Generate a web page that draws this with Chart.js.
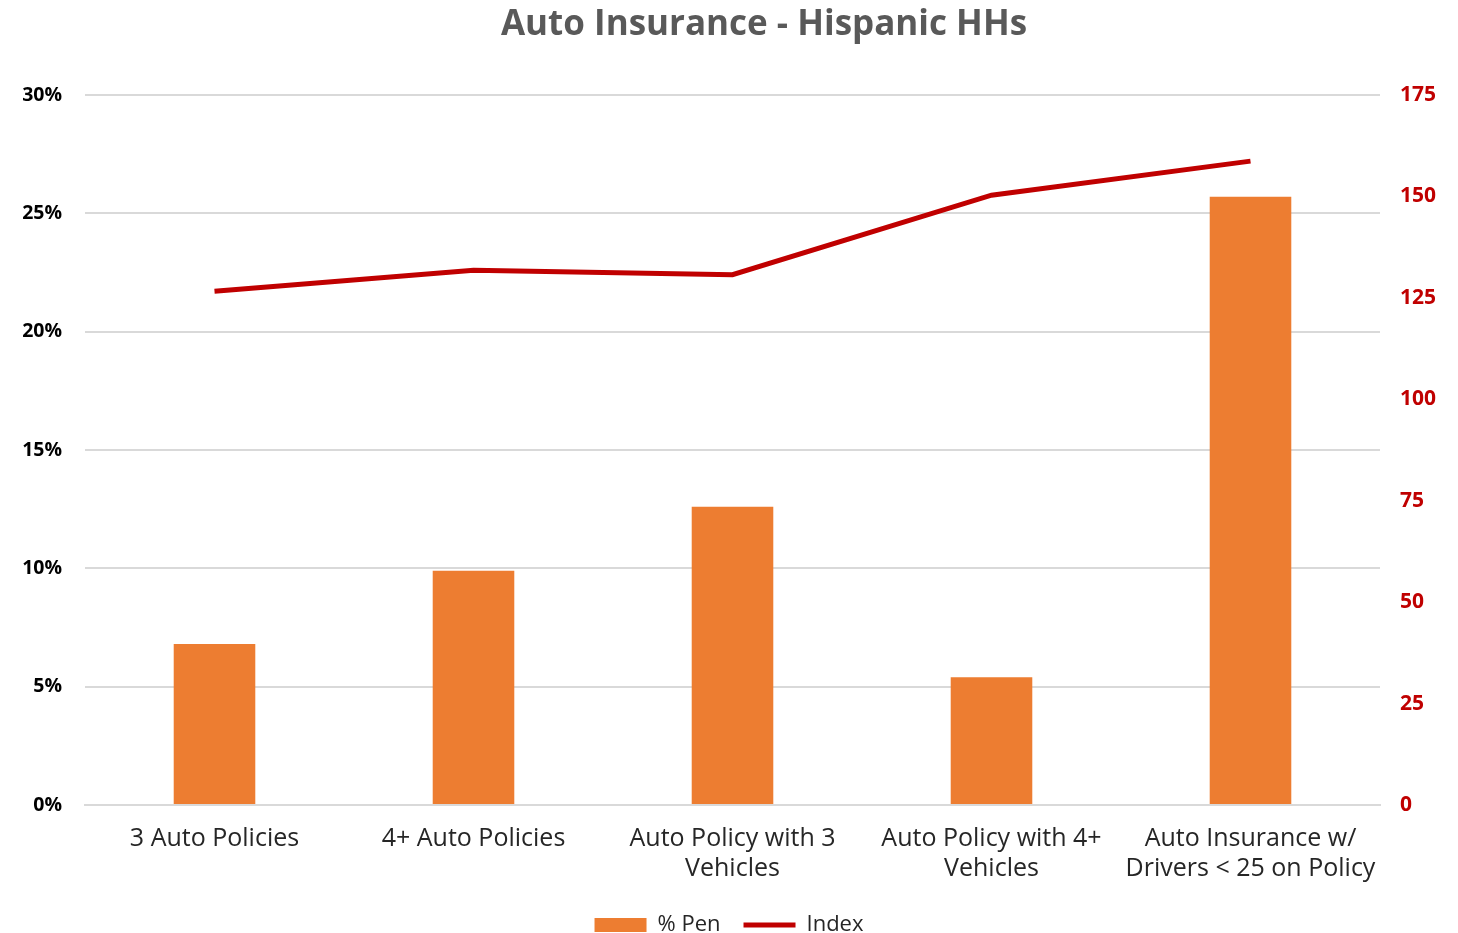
<!DOCTYPE html>
<html>
<head>
<meta charset="utf-8">
<script src="https://cdn.jsdelivr.net/npm/chart.js@4.4.1/dist/chart.umd.min.js"></script>
<style>
  html, body { margin: 0; padding: 0; background: #fff; }
  #wrap { width: 1458px; height: 933px; position: relative; }
</style>
</head>
<body>
<div id="wrap"><canvas id="myChart"></canvas></div>
<script>
const chartTitle = 'Auto Insurance - Hispanic HHs';
const categories = [
  '3 Auto Policies',
  '4+ Auto Policies',
  ['Auto Policy with 3', 'Vehicles'],
  ['Auto Policy with 4+', 'Vehicles'],
  ['Auto Insurance w/', 'Drivers < 25 on Policy']
];
const penValues = [6.8, 9.9, 12.6, 5.4, 25.7];
const indexValues = [126.6, 131.8, 130.7, 150.3, 158.7];
const leftTicks = [0, 5, 10, 15, 20, 25, 30];
const rightTicks = [0, 25, 50, 75, 100, 125, 150, 175];

// title is drawn by hand so it can sit a bit right of centre, like the original
const titlePlugin = {
  id: 'titlePlugin',
  afterDraw(chart) {
    const c = chart.ctx;
    c.save();
    c.font = 'bold 35px "Open Sans"';
    c.fillStyle = '#595959';
    c.textAlign = 'center';
    c.textBaseline = 'alphabetic';
    c.fillText(chartTitle, 764, 35);
    c.restore();
  }
};

document.addEventListener('DOMContentLoaded', function() {
  const ctx = document.getElementById('myChart');

  new Chart(ctx, {
    data: {
      labels: categories,
      datasets: [{
        type: 'line',
        label: 'Index',
        data: indexValues,
        yAxisID: 'y1',
        borderColor: '#C00000',
        backgroundColor: '#C00000',
        borderWidth: 5,
        pointRadius: 0,
        pointStyle: 'line',
        tension: 0,
        order: 0
      },
      {
        type: 'bar',
        label: '% Pen',
        data: penValues,
        yAxisID: 'y',
        backgroundColor: '#ED7D31',
        borderWidth: 0,
        pointStyle: 'rect',
        categoryPercentage: 1,
        barPercentage: 0.315,
        order: 1
      }]
    },
    plugins: [titlePlugin],
    options: {
      responsive: true,
      maintainAspectRatio: false,
      animation: false,
      layout: { padding: { left: 0, right: 0, top: 95, bottom: -13 } },
      plugins: {
        title: { display: false },
        legend: {
          position: 'bottom',
          reverse: true,
          labels: {
            usePointStyle: true,
            pointStyleWidth: 52,
            boxHeight: 14,
            padding: 23,
            color: '#262626',
            font: { family: 'Open Sans', size: 22 }
          }
        },
        tooltip: { enabled: false }
      },
      scales: {
        x: {
          grid: { display: false, drawTicks: false },
          border: { color: '#d9d9d9', width: 2 },
          afterFit: function(scale) { scale.height = 86; },
          ticks: {
            color: '#262626',
            maxRotation: 0,
            autoSkip: false,
            padding: 19,
            font: { family: 'Open Sans', size: 25, lineHeight: 1.2 }
          }
        },
        y: {
          position: 'left',
          min: 0,
          max: 30,
          afterBuildTicks: function(axis) {
            axis.ticks = leftTicks.map(v => ({ value: v }));
          },
          grid: { color: '#d9d9d9', lineWidth: 2, drawTicks: false },
          border: { display: false },
          afterFit: function(scale) { scale.width = 85; },
          ticks: {
            color: '#000000',
            padding: 23,
            font: { family: 'Open Sans', size: 19.5, weight: 'bold' },
            callback: v => v + '%'
          }
        },
        y1: {
          position: 'right',
          min: 0,
          max: 175,
          afterBuildTicks: function(axis) {
            axis.ticks = rightTicks.map(v => ({ value: v }));
          },
          grid: { display: false, drawTicks: false },
          border: { display: false },
          afterFit: function(scale) { scale.width = 78; },
          ticks: {
            color: '#C00000',
            padding: 20,
            font: { family: 'Open Sans', size: 21, weight: 'bold' }
          }
        }
      }
    }
  });
});
</script>
</body>
</html>
